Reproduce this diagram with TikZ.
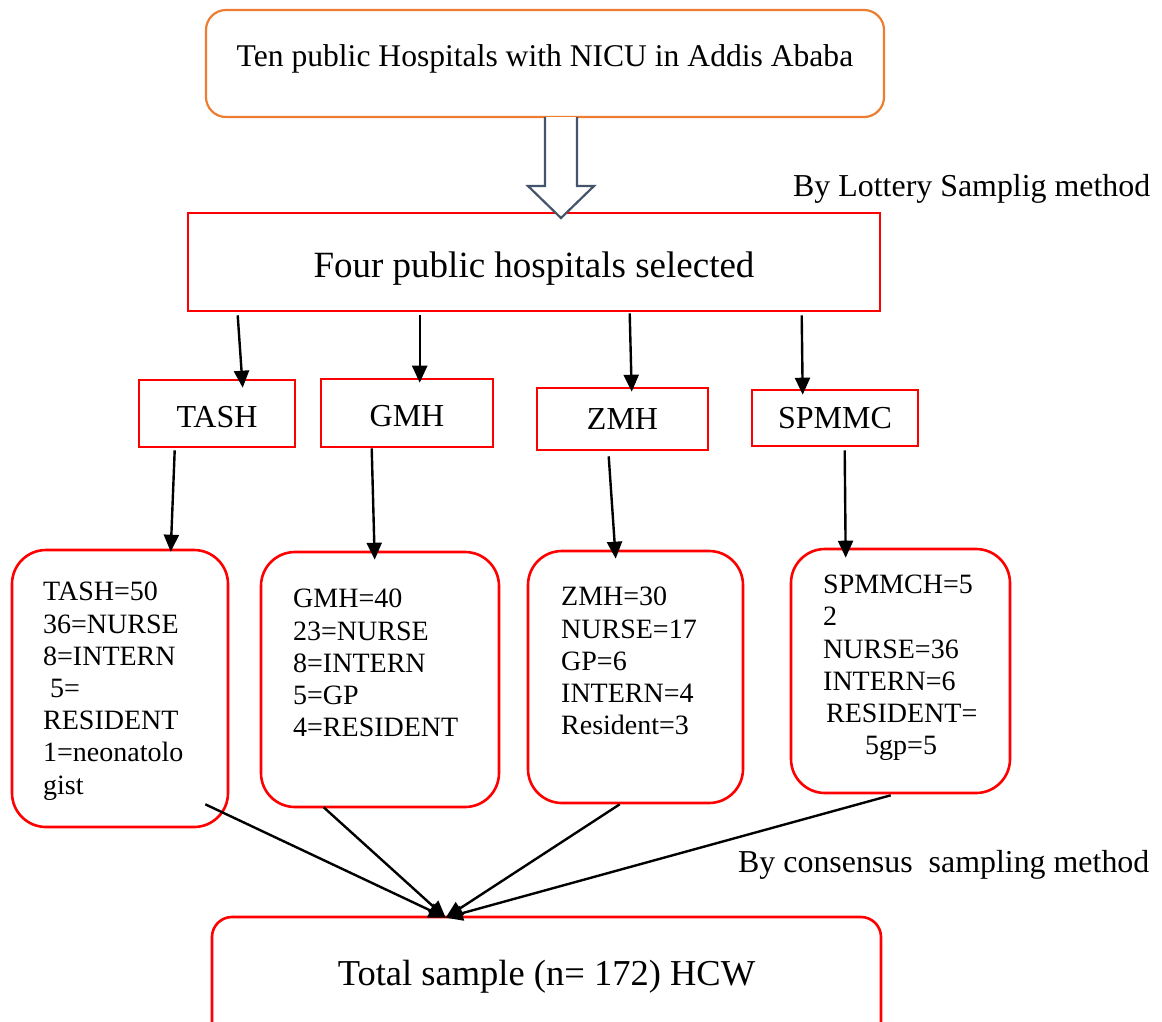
\documentclass[tikz,border=0pt]{standalone}
\usepackage{fontspec}
\setmainfont{Liberation Serif}
\usetikzlibrary{arrows.meta}
\definecolor{boxred}{RGB}{255,0,0}
\definecolor{boxorange}{RGB}{237,125,49}
\definecolor{slate}{RGB}{68,84,106}

\tikzset{
  redbox/.style={draw=boxred, line width=2.6pt, inner sep=0pt},
  hosp/.style={redbox, anchor=base, font=\fontsize{32}{38}\selectfont},
  roundbox/.style={draw=boxred, line width=2.6pt, rounded corners=34pt, inner sep=0pt},
  arr/.style={line width=2.4pt, -{Triangle[length=17pt,width=15pt]}},
  list/.style={font=\fontsize{28}{32.2}\selectfont, align=left, inner sep=0pt, anchor=north west},
  lbl/.style={font=\fontsize{31.9}{38}\selectfont, inner sep=0pt, anchor=base west},
}

\begin{document}
\begin{tikzpicture}[x=1pt,y=-1pt]
\useasboundingbox (0,0) rectangle (1162,1021);
\clip (0,0) rectangle (1162,1021);
\fill[white] (0,0) rectangle (1162,1021);

% top box and hollow arrow
\node[draw=boxorange, line width=2.2pt, rounded corners=20pt, inner sep=0pt,
  minimum width=678pt, text height=56pt, text depth=51pt, anchor=base,
  font=\fontsize{31.6}{38}\selectfont] (ten) at (545,66) {Ten public Hospitals with NICU in Addis Ababa};

\node[redbox, anchor=base, minimum width=692pt, text height=64pt, text depth=34pt,
  font=\fontsize{37}{44}\selectfont] (four) at (534,277) {Four public hospitals selected};

\draw[slate, line width=2.2pt, fill=white] (545,117) -- (545,186) -- (528,186) -- (561,218)
  -- (594,186) -- (577,186) -- (577,117);

\node[lbl] (lottery) at (793,196) {By Lottery Samplig method};

% hospitals
\node[hosp, minimum width=156pt, text height=47pt, text depth=20pt] (tash) at (217,427) {TASH};
\node[hosp, minimum width=172pt, text height=47pt, text depth=21pt] (gmh) at (407,426) {GMH};
\node[hosp, minimum width=171pt, text height=41pt, text depth=21pt] (zmh) at (622.5,429) {ZMH};
\node[hosp, minimum width=166pt, text height=38pt, text depth=18pt] (spmmc) at (835,428) {SPMMC};

\draw[arr] ([xshift=51pt,yshift=-3pt]four.south west) -- ([xshift=105pt,yshift=-9pt]tash.north west);
\draw[arr] ([xshift=233pt,yshift=-3pt]four.south west) -- ([xshift=100pt,yshift=-5pt]gmh.north west);
\draw[arr] ([xshift=443pt,yshift=-1pt]four.south west) -- ([xshift=96pt,yshift=-5pt]zmh.north west);
\draw[arr] ([xshift=615pt,yshift=-3pt]four.south west) -- ([xshift=52pt,yshift=-6pt]spmmc.north west);

% staff counts
\node[roundbox, minimum width=216pt, minimum height=277pt] (tashn) at (120,688.5) {};
\node[roundbox, minimum width=238pt, minimum height=255pt] (gmhn) at (380,679.5) {};
\node[roundbox, minimum width=215pt, minimum height=252pt] (zmhn) at (635.5,677) {};
\node[roundbox, minimum width=219pt, minimum height=244pt] (spmmcn) at (900.5,671) {};

\node[list] (tasht) at (43,582) {TASH=50\\36=NURSE\\8=INTERN\\\hspace*{7pt}5=\\RESIDENT\\1=neonatolo\\gist};
\node[list] (gmht) at (293,589) {GMH=40\\23=NURSE\\8=INTERN\\5=GP\\4=RESIDENT};
\node[list] (zmht) at (561,587) {ZMH=30\\NURSE=17\\GP=6\\INTERN=4\\Resident=3};
\node[list] (spmmct) at (823,575) {SPMMCH=5\\2\\NURSE=36\\INTERN=6\\\hspace*{3pt}RESIDENT=\\\hspace*{42pt}5gp=5};

\draw[arr] ([xshift=37pt,yshift=-2pt]tash.south west) -- ([xshift=160pt,yshift=-3pt]tashn.north west);
\draw[arr] ([xshift=52pt]gmh.south west) -- ([xshift=115pt,yshift=-9pt]gmhn.north west);
\draw[arr] ([xshift=73pt,yshift=-5pt]zmh.south west) -- ([xshift=89pt,yshift=-9pt]zmhn.north west);
\draw[arr] ([xshift=94pt,yshift=-3pt]spmmc.south west) -- ([xshift=56pt,yshift=-10pt]spmmcn.north west);

% total
\node[roundbox, rounded corners=20pt, anchor=base, minimum width=669pt, text height=68pt,
  text depth=60pt, font=\fontsize{36.5}{44}\selectfont] (total) at (546.5,985) {Total sample (n= 172) HCW};

\draw[arr] ([xshift=-24pt,yshift=24pt]tashn.south east) -- ([xshift=235pt,yshift=-2pt]total.north west);
\draw[arr] ([xshift=64pt,yshift=1pt]gmhn.south west) -- ([xshift=235pt,yshift=-2pt]total.north west);
\draw[arr] ([xshift=93pt]zmhn.south west) -- ([xshift=235pt,yshift=-2pt]total.north west);
\draw[arr] ([xshift=101pt,yshift=-1pt]spmmcn.south west) -- ([xshift=235pt,yshift=-2pt]total.north west);

\node[lbl] (consensus) at (738,872) {By consensus\ \ sampling method};
\end{tikzpicture}
\end{document}
